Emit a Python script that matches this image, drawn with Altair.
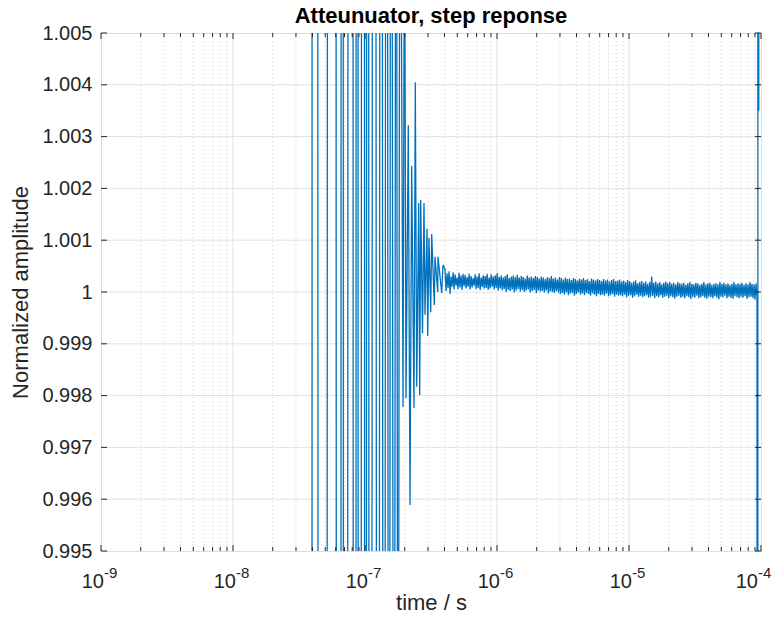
import altair as alt
import numpy as np
import pandas as pd

# ---------------- data ----------------
TITLE = "Atteunuator, step reponse"

# transient (ringing) samples: time in ns, normalized amplitude
transient_t_ns = [1, 35.1, 39.0, 40.4, 47.2, 56.2, 64.7, 66.9, 69.9, 78.3, 84.0, 87.0,
                  90.1, 97.4, 100.9, 104.4, 109.1, 117.0, 125.5, 132.2, 139.3, 145.5,
                  152.0, 157.4, 165.9, 171.8, 177.8, 184.2, 194.1, 199.2, 204.5, 212.8,
                  219.2, 225.8, 235.0, 240.5, 246.5, 255.2, 259.7, 264.2, 272.7, 279.9,
                  284.8, 294.9, 298.5, 305.3, 314.5, 320.1, 335.0, 339.1, 355.5, 357.3,
                  381.2, 389.9]
transient_v = [0, 0, 0.70, 1.30, 0.75, 1.22, 0.80, 1.18, 0.84, 1.15, 0.87, 1.12,
               0.89, 1.10, 0.91, 1.08, 0.93, 1.06, 0.95, 1.045, 0.96, 1.035,
               0.97, 1.025, 0.978, 1.018, 0.985, 1.012, 0.99778, 1.008, 0.99795, 1.00322,
               0.99589, 1.00243, 0.99776, 1.00405, 0.99817, 1.00172, 0.99801, 1.00178, 0.9992, 1.00172,
               0.99956, 1.00122, 0.99915, 1.00104, 0.99961, 1.00112, 0.99975, 1.00068, 1.0, 1.00068,
               0.99998, 1.00052]

# settled tail: upper and lower excursions, in units of 1e-5 above 1
tail_hi = [44, 36, 40, 30, 38, 34, 28, 37, 32, 35,
           33, 29, 35, 31, 27, 34, 30, 36, 28, 32,
           31, 35, 28, 34, 30, 32, 36, 29,
           32, 28, 31, 34, 27, 30, 32, 29, 33, 28,
           31, 29, 26, 32, 28, 30, 27, 31, 29, 26,
           30, 28, 25, 29, 27, 31, 26, 28, 24, 29,
           27, 24, 28, 25, 26, 23, 27, 25, 22, 26,
           24, 27, 23, 25, 21, 26, 24, 22, 25, 23,
           21, 25, 22, 24, 20, 23, 25, 21, 22, 24,
           20, 22, 19, 23, 21, 18, 20, 22, 17, 19,
           21, 18, 20, 16, 19, 30, 18, 20, 17, 19,
           15, 18, 20, 17, 19, 16, 18, 15, 19, 17,
           16, 18, 14, 17, 19, 16, 15, 18, 17, 14,
           16, 19, 15, 17, 18, 14, 16, 17, 15, 19,
           16, 18, 15, 17, 14, 16, 19, 15, 17, 16,
           18, 14, 17, 15, 19, 16, 15, 17]
tail_lo = [2, 8, -4, 10, 5, 12, 6, 9, 4, 11,
           7, 10, 5, 9, 12, 6, 8, 4, 10, 7,
           8, 4, 7, 10, 5, 8, 3, 7,
           3, 6, 0, 4, 2, 5, -1, 3, 6, 1,
           4, 0, 3, 5, -1, 2, 4, -2, 3, 1,
           2, -1, 3, -3, 1, 0, -2, 2, -1, -4,
           -2, -5, -1, -6, -3, -2, -7, -4, -1, -5,
           -3, -6, -2, -4, -7, -3, -5, -8, -4, -6,
           -5, -7, -3, -8, -6, -4, -9, -5, -7, -6,
           -8, -5, -10, -7, -6, -11, -8, -5, -9, -7,
           -10, -8, -6, -11, -9, -7, -12, -8, -10, -6,
           -11, -9, -7, -12, -8, -10, -13, -9, -7, -11,
           -9, -12, -8, -10, -14, -9, -11, -7, -12, -10,
           -8, -11, -13, -9, -10, -12, -8, -11, -14, -9,
           -10, -7, -12, -9, -11, -13, -8, -10, -12, -9,
           -11, -8, -13, -10, -9, -12, -15, -10]
tail_start_s = 4.04e-7
tail_end_s = 9.33e-5

# edge at the end of the record
end_t_s = [9.42e-5, 9.52e-5, 9.62e-5]
end_v = [0.5, 1.5, 1.0035]

y_ticks = [0.995, 0.996, 0.997, 0.998, 0.999, 1.0, 1.001, 1.002, 1.003, 1.004, 1.005]
decades = [-9, -8, -7, -6, -5, -4]
minor_mult = [2, 3, 4, 5, 6, 7, 8, 9]

# ---------------- tables ----------------
assert len(transient_t_ns) == len(transient_v)
assert len(tail_hi) == len(tail_lo)
tail_dev = [d for pair in zip(tail_hi, tail_lo) for d in pair]
tail_t = np.logspace(np.log10(tail_start_s), np.log10(tail_end_s), len(tail_dev))

t_all = [x * 1e-9 for x in transient_t_ns] + list(tail_t) + end_t_s
v_all = transient_v + [1 + d * 1e-5 for d in tail_dev] + end_v
df = pd.DataFrame({"t": t_all, "v": v_all})

major_t = [10.0 ** d for d in decades]
minor_t = [m * 10.0 ** d for d in decades[:-1] for m in minor_mult]
major_df = pd.DataFrame({"t": major_t})
major_inner_df = pd.DataFrame({"t": major_t[1:-1]})
minor_df = pd.DataFrame({"t": minor_t})
ygrid_df = pd.DataFrame({"v": y_ticks[1:-1]})
ytick_df = pd.DataFrame({"v": y_ticks})
lab_df = pd.DataFrame({"t": major_t, "base": ["10"] * len(decades),
                       "exp": [str(d) for d in decades]})
lab_main = lab_df.iloc[:-1]
lab_last = lab_df.iloc[-1:]
title_df = pd.DataFrame({"title": [TITLE]})

# ---------------- styling ----------------
W, H = 660, 518
FONT = "Liberation Sans"
INK = "#262626"
GRID = "#e3e3e3"
MINOR = "#c8c8c8"

xscale = alt.Scale(type="log", domain=[1e-9, 1e-4])
yscale = alt.Scale(domain=[0.995, 1.005])
xax = alt.Axis(labels=False, ticks=False, domain=False, grid=False,
               title="time / s", titleFont=FONT, titleFontSize=22,
               titleFontWeight="normal", titleColor=INK, titlePadding=41)
yax = alt.Axis(values=y_ticks, format=".3~f", ticks=False, domain=False, grid=False,
               labelFont=FONT, labelFontSize=20, labelColor=INK, labelPadding=9,
               title="Normalized amplitude", titleFont=FONT, titleFontSize=22,
               titleFontWeight="normal", titleColor=INK, titlePadding=9)

X = alt.X("t:Q", scale=xscale, axis=xax)
Y = alt.Y("v:Q", scale=yscale, axis=yax)

minor_grid = alt.Chart(minor_df).mark_rule(color=MINOR, strokeWidth=1, strokeDash=[1, 3]).encode(
    x=X, y=alt.value(0), y2=alt.value(H))
major_grid = alt.Chart(major_inner_df).mark_rule(color=GRID, strokeWidth=1).encode(
    x=X, y=alt.value(0), y2=alt.value(H))
y_grid = alt.Chart(ygrid_df).mark_rule(color=GRID, strokeWidth=1).encode(
    y=Y, x=alt.value(0), x2=alt.value(W))

line = alt.Chart(df).mark_line(clip=True, color="#0072BD", strokeWidth=1.3).encode(x=X, y=Y)

tick = dict(color=INK, strokeWidth=1)
yt_left = alt.Chart(ytick_df).mark_rule(**tick).encode(y=Y, x=alt.value(0), x2=alt.value(6))
yt_right = alt.Chart(ytick_df).mark_rule(**tick).encode(y=Y, x=alt.value(W - 6), x2=alt.value(W))
xt_bot = alt.Chart(major_df).mark_rule(**tick).encode(x=X, y=alt.value(H - 6), y2=alt.value(H))
xt_top = alt.Chart(major_df).mark_rule(**tick).encode(x=X, y=alt.value(0), y2=alt.value(6))
xm_bot = alt.Chart(minor_df).mark_rule(**tick).encode(x=X, y=alt.value(H - 4), y2=alt.value(H))
xm_top = alt.Chart(minor_df).mark_rule(**tick).encode(x=X, y=alt.value(0), y2=alt.value(4))


def tick_labels(data, shift):
    base = alt.Chart(data).mark_text(align="right", baseline="alphabetic", dx=shift,
                                     font=FONT, fontSize=20, color=INK).encode(
        x=X, y=alt.value(H + 37), text="base:N")
    exp = alt.Chart(data).mark_text(align="left", baseline="alphabetic", dx=shift,
                                    font=FONT, fontSize=15, color=INK).encode(
        x=X, y=alt.value(H + 27), text="exp:N")
    return [base, exp]


title_mark = alt.Chart(title_df).mark_text(
    align="center", baseline="alphabetic", font=FONT, fontSize=22,
    fontWeight="bold", color="#000000").encode(
    text="title:N", x=alt.value(W / 2), y=alt.value(-10))

chart = alt.layer(
    minor_grid, major_grid, y_grid, line,
    yt_left, yt_right, xt_bot, xt_top, xm_bot, xm_top,
    *tick_labels(lab_main, 3), *tick_labels(lab_last, -3),
    title_mark,
).properties(
    width=W, height=H,
    autosize=alt.AutoSizeParams(type="none"),
    padding={"left": 93, "top": 25, "right": 12, "bottom": 67},
).configure_view(stroke=INK, strokeWidth=1).configure(background="white")

chart.save("out.html", embed_options={"renderer": "svg", "actions": False})
